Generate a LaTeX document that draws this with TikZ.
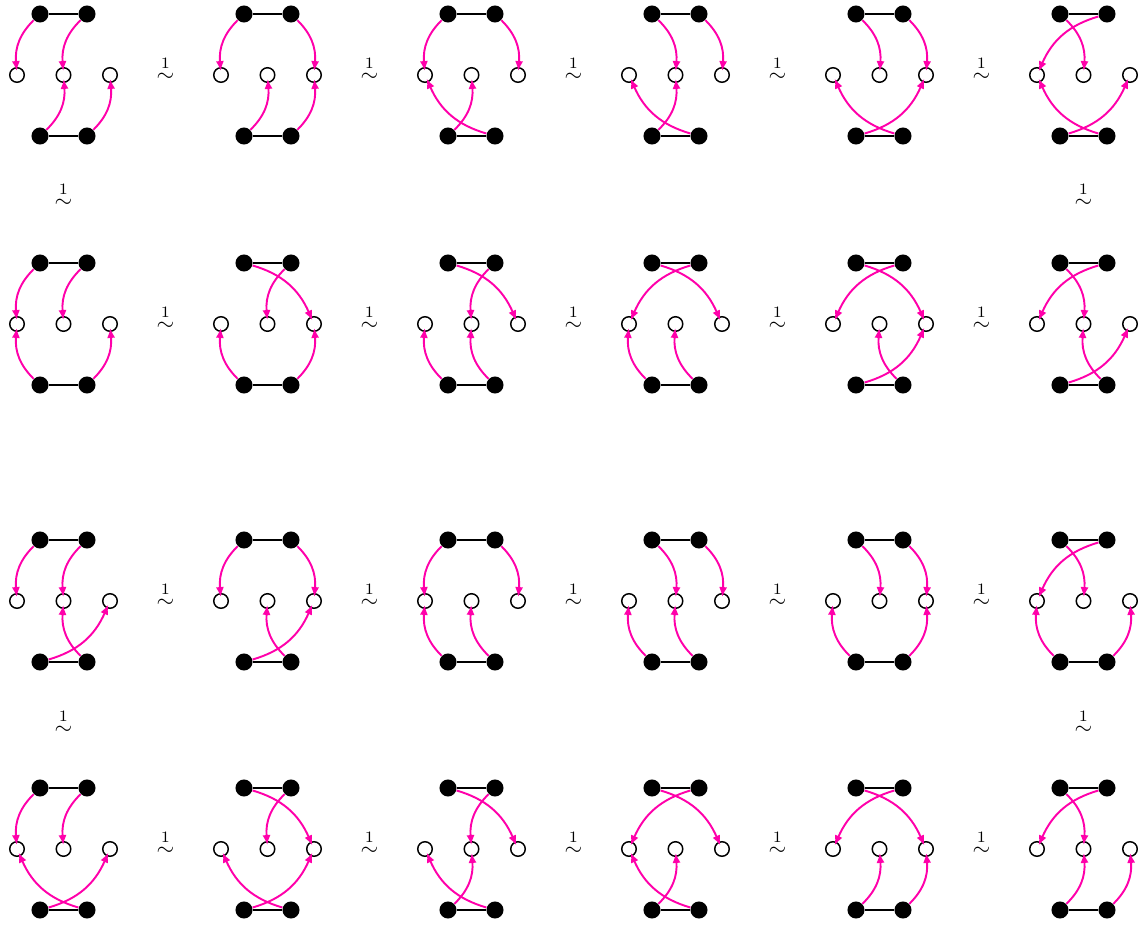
\documentclass[tikz,border=0pt]{standalone}
\usepackage{amsmath}
\usepackage{tikz}
\usetikzlibrary{arrows.meta}

\definecolor{hotpink}{RGB}{255,0,170}

\begin{document}
\begin{tikzpicture}[
    x=0.44pt, y=0.44pt,
    dot/.style={circle, fill=black, inner sep=0pt, minimum size=7.5pt},
    hole/.style={circle, draw=black, line width=0.65pt, fill=white, inner sep=0pt, minimum size=6.4pt},
    bar/.style={draw=black, line width=0.7pt},
    move/.style={draw=hotpink, line width=0.85pt, -{Latex[length=4.4pt, width=3.6pt]}, shorten >=-1.8pt},
    rel/.style={inner sep=1pt}
]
    \useasboundingbox (0,0) rectangle (1138,-925);

    % Diagrams: column/row top/targets of t1, t2, b1, b2
    \foreach \i/\y/\a/\b/\c/\d [count=\n] in {
        0/14/1/2/2/3,   1/14/1/3/2/3,   2/14/1/3/2/1,
        3/14/2/3/2/1,   4/14/2/3/3/1,   5/14/2/1/3/1,
        0/263/1/2/1/3,  1/263/3/2/1/3,  2/263/3/2/1/2,
        3/263/3/1/1/2,  4/263/3/1/3/2,  5/263/2/1/3/2,
        0/540/1/2/3/2,  1/540/1/3/3/2,  2/540/1/3/1/2,
        3/540/2/3/1/2,  4/540/2/3/1/3,  5/540/2/1/1/3,
        0/788/1/2/3/1,  1/788/3/2/3/1,  2/788/3/2/2/1,
        3/788/3/1/2/1,  4/788/3/1/2/3,  5/788/2/1/2/3%
    } {
        \pgfmathsetmacro\x{17+204*\i}
        \node [dot] (t1-\n) at (\x+23,-\y) {};
        \node [dot] (t2-\n) at (\x+70,-\y) {};
        \node [hole] (c1-\n) at (\x,-\y-61) {};
        \node [hole] (c2-\n) at (\x+46.5,-\y-61) {};
        \node [hole] (c3-\n) at (\x+93,-\y-61) {};
        \node [dot] (b1-\n) at (\x+23,-\y-122) {};
        \node [dot] (b2-\n) at (\x+70,-\y-122) {};
        \draw [bar] (t1-\n) -- (t2-\n);
        \draw [bar] (b1-\n) -- (b2-\n);
        % Arrows bulge away from the holes
        \pgfmathsetmacro\ba{\a>1 ? 25 : -25}
        \pgfmathsetmacro\bb{\b>2 ? 25 : -25}
        \pgfmathsetmacro\bc{\c>1 ? -25 : 25}
        \pgfmathsetmacro\bd{\d>2 ? -25 : 25}
        \draw [move] (t1-\n) to [bend left=\ba] (c\a-\n);
        \draw [move] (t2-\n) to [bend left=\bb] (c\b-\n);
        \draw [move] (b1-\n) to [bend left=\bc] (c\c-\n);
        \draw [move] (b2-\n) to [bend left=\bd] (c\d-\n);
    }

    % Relations along each row
    \foreach \y in {14, 263, 540, 788} {
        \foreach \i in {0,...,4} {
            \node [rel] (sim-\y-\i) at ({165.5+204*\i}, -\y-55) {$\stackrel{1}{\sim}$};
        }
    }

    % Relations between rows
    \foreach \x/\y [count=\k] in {63.5/195, 1083.5/195, 63.5/722, 1083.5/722} {
        \node [rel] (down-\k) at (\x,-\y) {$\stackrel{1}{\sim}$};
    }
\end{tikzpicture}
\end{document}
